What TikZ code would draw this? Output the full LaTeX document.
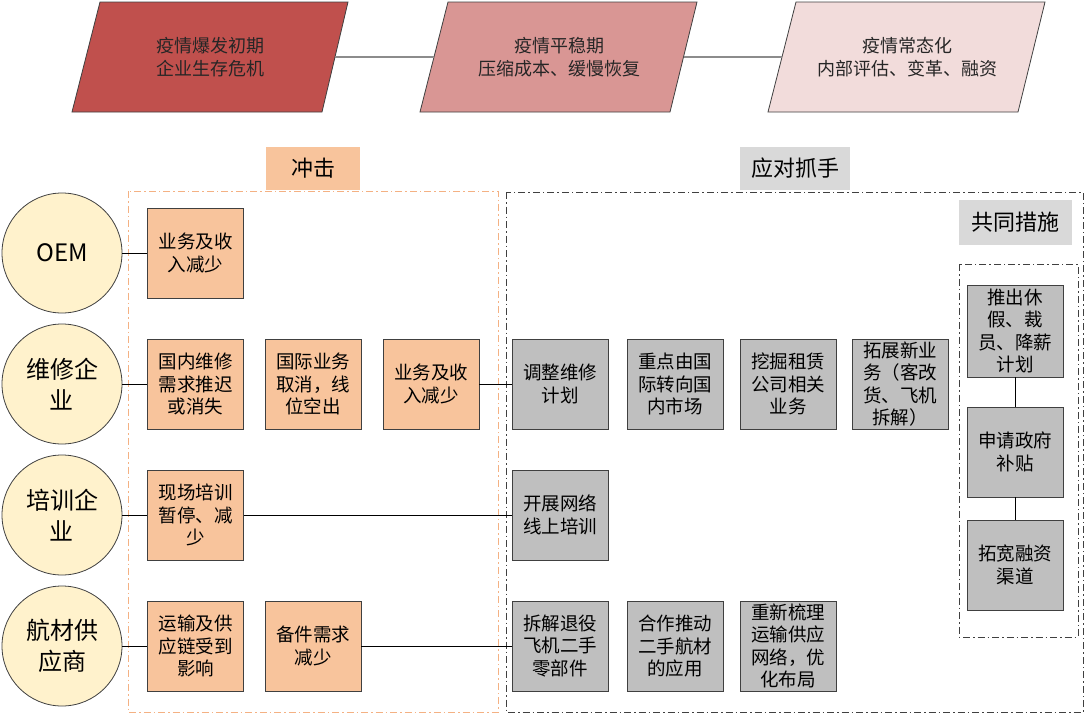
\documentclass[tikz,border=0pt]{standalone}
\usepackage{fontspec}
\setmainfont{Noto Sans CJK SC}
\definecolor{ph1}{HTML}{C0504D}
\definecolor{ph2}{HTML}{D99694}
\definecolor{ph3}{HTML}{F2DCDB}
\definecolor{orfill}{HTML}{F8C49C}
\definecolor{ordash}{HTML}{F4B183}
\definecolor{grfill}{HTML}{BFBFBF}
\definecolor{lblgray}{HTML}{D9D9D9}
\definecolor{circfill}{HTML}{FFF2CC}
\definecolor{edge}{HTML}{404040}
\tikzset{
  phase/.style={draw=edge, line width=0.8pt},
  phasetext/.style={align=center, font=\fontsize{18}{23}\selectfont, text=black!85},
  org/.style={circle, draw=edge, line width=0.8pt, fill=circfill, minimum size=120pt, inner sep=0pt, align=center, font=\fontsize{24}{31}\selectfont},
  impact/.style={draw=edge, line width=0.8pt, fill=orfill, minimum width=96pt, minimum height=90pt, inner sep=0pt, align=center, font=\fontsize{18.5}{22.5}\selectfont},
  measure/.style={draw=edge, line width=0.8pt, fill=grfill, minimum width=96pt, minimum height=90pt, inner sep=0pt, align=center, font=\fontsize{18.5}{22.5}\selectfont},
  label/.style={inner sep=0pt, align=center, font=\fontsize{22}{26}\selectfont},
  conn/.style={black, line width=0.8pt},
  phconn/.style={gray!90, line width=2pt},
}
\begin{document}
\begin{tikzpicture}[x=1pt, y=-1pt]
\useasboundingbox (0,0) rectangle (1086,715);
% phases
\fill[ph1] (100,2) -- (348,2) -- (322,112) -- (72,112) -- cycle;
\draw[phase] (100,2) -- (348,2) -- (322,112) -- (72,112) -- cycle;
\fill[ph2] (448,2) -- (697,2) -- (670,112) -- (420,112) -- cycle;
\draw[phase] (448,2) -- (697,2) -- (670,112) -- (420,112) -- cycle;
\fill[ph3] (796,2) -- (1045,2) -- (1018,112) -- (768,112) -- cycle;
\draw[phase] (796,2) -- (1045,2) -- (1018,112) -- (768,112) -- cycle;
\coordinate (p1r) at (335,57);
\coordinate (p2l) at (434,57);
\coordinate (p2r) at (683.5,57);
\coordinate (p3l) at (782,57);
\draw[phconn] (p1r) -- (p2l);
\draw[phconn] (p2r) -- (p3l);
\node[phasetext] (ph1t) at (210,57) {疫情爆发初期\\企业生存危机};
\node[phasetext] (ph2t) at (559,57) {疫情平稳期\\压缩成本、缓慢恢复};
\node[phasetext] (ph3t) at (907,57) {疫情常态化\\内部评估、变革、融资};
% group frames
\draw[ordash, line width=0.9pt, dash pattern=on 7pt off 3pt on 1.5pt off 3pt] (128,191) rectangle (498,712);
\draw[edge, line width=0.9pt, dash pattern=on 7pt off 3pt on 1.5pt off 3pt] (506,192) rectangle (1083,712);
\draw[edge, line width=0.9pt, dash pattern=on 7pt off 3pt on 1.5pt off 3pt] (959,264) rectangle (1078,637);
% labels
\node[label, fill=orfill, minimum width=94pt, minimum height=43pt] (lbl1) at (313,168.5) {冲击};
\node[label, fill=lblgray, minimum width=110pt, minimum height=43pt] (lbl2) at (795,168.5) {应对抓手};
\node[label, fill=lblgray, minimum width=113pt, minimum height=45pt] (lbl3) at (1015,222) {共同措施};
% organisations
\node[org] (oem) at (62,253) {OEM};
\node[org] (mro) at (62,384) {维修企\\业};
\node[org] (trn) at (62,515) {培训企\\业};
\node[org] (sup) at (62,646) {航材供\\应商};
% impacts
\node[impact] (i11) at (195.5,253) {业务及收\\入减少};
\node[impact] (i21) at (195.5,384) {国内维修\\需求推迟\\或消失};
\node[impact] (i22) at (313,384) {国际业务\\取消，线\\位空出};
\node[impact] (i23) at (431,384) {业务及收\\入减少};
\node[impact] (i31) at (195.5,515) {现场培训\\暂停、减\\少};
\node[impact] (i41) at (195.5,646) {运输及供\\应链受到\\影响};
\node[impact] (i42) at (313,646) {备件需求\\减少};
% measures
\node[measure] (m21) at (560,384) {调整维修\\计划};
\node[measure] (m22) at (675,384) {重点由国\\际转向国\\内市场};
\node[measure] (m23) at (788,384) {挖掘租赁\\公司相关\\业务};
\node[measure] (m24) at (900,384) {拓展新业\\务（客改\\货、飞机\\拆解）};
\node[measure] (m31) at (560,515) {开展网络\\线上培训};
\node[measure] (m41) at (560,646) {拆解退役\\飞机二手\\零部件};
\node[measure] (m42) at (675,646) {合作推动\\二手航材\\的应用};
\node[measure] (m43) at (788,646) {重新梳理\\运输供应\\网络，优\\化布局};
% common measures
\node[measure, minimum height=92pt] (c1) at (1015,331) {推出休\\假、裁\\员、降薪\\计划};
\node[measure] (c2) at (1015,452) {申请政府\\补贴};
\node[measure] (c3) at (1015,565) {拓宽融资\\渠道};
% connectors
\draw[conn] (oem) -- (i11);
\draw[conn] (mro) -- (i21);
\draw[conn] (i23) -- (m21);
\draw[conn] (trn) -- (i31);
\draw[conn] (i31) -- (m31);
\draw[conn] (sup) -- (i41);
\draw[conn] (i42) -- (m41);
\draw[conn] (c1) -- (c2);
\draw[conn] (c2) -- (c3);
\end{tikzpicture}
\end{document}
